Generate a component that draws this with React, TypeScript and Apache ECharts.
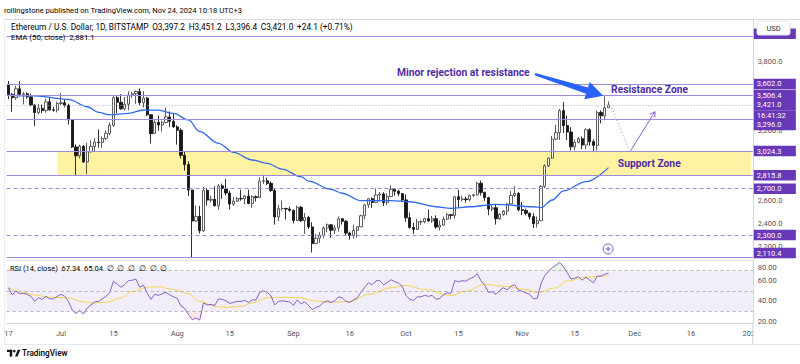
import React, { useEffect, useRef } from 'react';
import * as echarts from 'echarts';

// ---------- data ----------
// [date, open, high, low, close]
const candles: [string, number, number, number, number][] = [
  ['2024-06-17', 3598, 3628, 3472, 3512],
  ['2024-06-18', 3512, 3525, 3362, 3484],
  ['2024-06-19', 3484, 3588, 3466, 3561],
  ['2024-06-20', 3561, 3625, 3495, 3513],
  ['2024-06-21', 3513, 3532, 3426, 3517],
  ['2024-06-22', 3517, 3530, 3475, 3491],
  ['2024-06-23', 3491, 3519, 3410, 3420],
  ['2024-06-24', 3420, 3430, 3240, 3356],
  ['2024-06-25', 3356, 3430, 3340, 3393],
  ['2024-06-26', 3393, 3425, 3350, 3373],
  ['2024-06-27', 3373, 3475, 3355, 3448],
  ['2024-06-28', 3448, 3490, 3372, 3379],
  ['2024-06-29', 3379, 3405, 3364, 3377],
  ['2024-06-30', 3377, 3450, 3357, 3434],
  ['2024-07-01', 3434, 3525, 3422, 3440],
  ['2024-07-02', 3440, 3468, 3401, 3419],
  ['2024-07-03', 3419, 3432, 3252, 3293],
  ['2024-07-04', 3293, 3300, 3050, 3059],
  ['2024-07-05', 3059, 3081, 2810, 2983],
  ['2024-07-06', 2983, 3080, 2960, 3066],
  ['2024-07-07', 3066, 3075, 2922, 2930],
  ['2024-07-08', 2930, 3096, 2823, 3018],
  ['2024-07-09', 3018, 3118, 3010, 3064],
  ['2024-07-10', 3064, 3138, 3025, 3101],
  ['2024-07-11', 3101, 3210, 3053, 3098],
  ['2024-07-12', 3098, 3150, 3052, 3133],
  ['2024-07-13', 3133, 3200, 3117, 3177],
  ['2024-07-14', 3177, 3270, 3160, 3246],
  ['2024-07-15', 3246, 3497, 3232, 3484],
  ['2024-07-16', 3484, 3500, 3350, 3444],
  ['2024-07-17', 3444, 3515, 3380, 3388],
  ['2024-07-18', 3388, 3490, 3375, 3428],
  ['2024-07-19', 3428, 3540, 3375, 3507],
  ['2024-07-20', 3507, 3535, 3481, 3518],
  ['2024-07-21', 3518, 3545, 3430, 3537],
  ['2024-07-22', 3537, 3563, 3420, 3440],
  ['2024-07-23', 3440, 3540, 3400, 3481],
  ['2024-07-24', 3481, 3490, 3325, 3337],
  ['2024-07-25', 3337, 3342, 3090, 3174],
  ['2024-07-26', 3174, 3290, 3172, 3272],
  ['2024-07-27', 3272, 3330, 3200, 3249],
  ['2024-07-28', 3249, 3285, 3192, 3270],
  ['2024-07-29', 3270, 3398, 3265, 3318],
  ['2024-07-30', 3318, 3366, 3230, 3280],
  ['2024-07-31', 3280, 3350, 3225, 3232],
  ['2024-08-01', 3232, 3247, 3080, 3203],
  ['2024-08-02', 3203, 3220, 2960, 2987],
  ['2024-08-03', 2987, 3015, 2855, 2907],
  ['2024-08-04', 2907, 2935, 2635, 2688],
  ['2024-08-05', 2688, 2690, 2110.4, 2421],
  ['2024-08-06', 2421, 2555, 2410, 2461],
  ['2024-08-07', 2461, 2552, 2312, 2336],
  ['2024-08-08', 2336, 2714, 2325, 2685],
  ['2024-08-09', 2685, 2703, 2555, 2601],
  ['2024-08-10', 2601, 2640, 2581, 2608],
  ['2024-08-11', 2608, 2720, 2545, 2553],
  ['2024-08-12', 2553, 2740, 2520, 2724],
  ['2024-08-13', 2724, 2743, 2610, 2702],
  ['2024-08-14', 2702, 2783, 2640, 2662],
  ['2024-08-15', 2662, 2681, 2520, 2567],
  ['2024-08-16', 2567, 2630, 2550, 2592],
  ['2024-08-17', 2592, 2630, 2585, 2614],
  ['2024-08-18', 2614, 2690, 2596, 2612],
  ['2024-08-19', 2612, 2645, 2565, 2636],
  ['2024-08-20', 2636, 2690, 2565, 2572],
  ['2024-08-21', 2572, 2645, 2535, 2631],
  ['2024-08-22', 2631, 2641, 2590, 2623],
  ['2024-08-23', 2623, 2797, 2620, 2763],
  ['2024-08-24', 2763, 2820, 2740, 2768],
  ['2024-08-25', 2768, 2795, 2730, 2746],
  ['2024-08-26', 2746, 2763, 2670, 2683],
  ['2024-08-27', 2683, 2697, 2390, 2456],
  ['2024-08-28', 2456, 2560, 2420, 2528],
  ['2024-08-29', 2528, 2597, 2510, 2529],
  ['2024-08-30', 2529, 2535, 2435, 2524],
  ['2024-08-31', 2524, 2545, 2500, 2513],
  ['2024-09-01', 2513, 2520, 2400, 2426],
  ['2024-09-02', 2426, 2555, 2421, 2539],
  ['2024-09-03', 2539, 2550, 2412, 2424],
  ['2024-09-04', 2424, 2490, 2310, 2451],
  ['2024-09-05', 2451, 2465, 2352, 2370],
  ['2024-09-06', 2370, 2410, 2150, 2226],
  ['2024-09-07', 2226, 2310, 2225, 2273],
  ['2024-09-08', 2273, 2325, 2230, 2298],
  ['2024-09-09', 2298, 2375, 2272, 2360],
  ['2024-09-10', 2360, 2400, 2323, 2388],
  ['2024-09-11', 2388, 2390, 2275, 2341],
  ['2024-09-12', 2341, 2385, 2310, 2361],
  ['2024-09-13', 2361, 2460, 2330, 2440],
  ['2024-09-14', 2440, 2443, 2390, 2418],
  ['2024-09-15', 2418, 2430, 2300, 2317],
  ['2024-09-16', 2317, 2330, 2260, 2295],
  ['2024-09-17', 2295, 2390, 2270, 2340],
  ['2024-09-18', 2340, 2375, 2275, 2371],
  ['2024-09-19', 2371, 2475, 2370, 2466],
  ['2024-09-20', 2466, 2568, 2435, 2560],
  ['2024-09-21', 2560, 2620, 2535, 2613],
  ['2024-09-22', 2613, 2625, 2535, 2581],
  ['2024-09-23', 2581, 2700, 2580, 2645],
  ['2024-09-24', 2645, 2670, 2590, 2654],
  ['2024-09-25', 2654, 2670, 2550, 2579],
  ['2024-09-26', 2579, 2660, 2558, 2633],
  ['2024-09-27', 2633, 2728, 2626, 2695],
  ['2024-09-28', 2695, 2705, 2640, 2678],
  ['2024-09-29', 2678, 2690, 2634, 2657],
  ['2024-09-30', 2657, 2661, 2586, 2603],
  ['2024-10-01', 2603, 2650, 2415, 2449],
  ['2024-10-02', 2449, 2495, 2355, 2365],
  ['2024-10-03', 2365, 2405, 2310, 2349],
  ['2024-10-04', 2349, 2440, 2343, 2414],
  ['2024-10-05', 2414, 2428, 2386, 2414],
  ['2024-10-06', 2414, 2450, 2402, 2441],
  ['2024-10-07', 2441, 2520, 2415, 2422],
  ['2024-10-08', 2422, 2465, 2405, 2441],
  ['2024-10-09', 2441, 2470, 2355, 2369],
  ['2024-10-10', 2369, 2425, 2340, 2385],
  ['2024-10-11', 2385, 2460, 2380, 2437],
  ['2024-10-12', 2437, 2490, 2430, 2476],
  ['2024-10-13', 2476, 2480, 2435, 2469],
  ['2024-10-14', 2469, 2635, 2440, 2630],
  ['2024-10-15', 2630, 2690, 2540, 2606],
  ['2024-10-16', 2606, 2640, 2590, 2611],
  ['2024-10-17', 2611, 2630, 2580, 2605],
  ['2024-10-18', 2605, 2650, 2590, 2640],
  ['2024-10-19', 2640, 2655, 2630, 2647],
  ['2024-10-20', 2647, 2760, 2640, 2746],
  ['2024-10-21', 2746, 2770, 2640, 2667],
  ['2024-10-22', 2667, 2674, 2595, 2622],
  ['2024-10-23', 2622, 2630, 2470, 2524],
  ['2024-10-24', 2524, 2560, 2505, 2535],
  ['2024-10-25', 2535, 2560, 2390, 2441],
  ['2024-10-26', 2441, 2490, 2430, 2477],
  ['2024-10-27', 2477, 2515, 2465, 2506],
  ['2024-10-28', 2506, 2575, 2470, 2568],
  ['2024-10-29', 2568, 2680, 2560, 2640],
  ['2024-10-30', 2640, 2722, 2628, 2659],
  ['2024-10-31', 2659, 2670, 2505, 2518],
  ['2024-11-01', 2518, 2586, 2472, 2512],
  ['2024-11-02', 2512, 2528, 2470, 2487],
  ['2024-11-03', 2487, 2495, 2435, 2458],
  ['2024-11-04', 2458, 2488, 2360, 2398],
  ['2024-11-05', 2398, 2460, 2365, 2423],
  ['2024-11-06', 2423, 2730, 2420, 2720],
  ['2024-11-07', 2720, 2910, 2705, 2897],
  ['2024-11-08', 2897, 2970, 2885, 2963],
  ['2024-11-09', 2963, 3155, 2956, 3127],
  ['2024-11-10', 3127, 3250, 3118, 3183],
  ['2024-11-11', 3183, 3387, 3120, 3372],
  ['2024-11-12', 3372, 3446, 3180, 3244],
  ['2024-11-13', 3244, 3330, 3120, 3188],
  ['2024-11-14', 3188, 3230, 3030, 3060],
  ['2024-11-15', 3060, 3122, 3030, 3100],
  ['2024-11-16', 3100, 3145, 3090, 3131],
  ['2024-11-17', 3131, 3150, 3040, 3076],
  ['2024-11-18', 3076, 3220, 3040, 3208],
  ['2024-11-19', 3208, 3220, 3072, 3105],
  ['2024-11-20', 3105, 3125, 3015, 3073],
  ['2024-11-21', 3073, 3374, 3030, 3357],
  ['2024-11-22', 3357, 3375, 3262, 3328],
  ['2024-11-23', 3328, 3498, 3290, 3397],
  ['2024-11-24', 3397.2, 3451.2, 3396.4, 3421.0],
];

// EMA(50, close)
const emaPoints: [string, number][] = [
  ['2024-06-17', 3505], ['2024-06-24', 3500], ['2024-07-03', 3470], ['2024-07-08', 3406],
  ['2024-07-11', 3358], ['2024-07-14', 3335], ['2024-07-19', 3349], ['2024-07-23', 3378],
  ['2024-07-27', 3376], ['2024-07-31', 3349], ['2024-08-04', 3292], ['2024-08-07', 3191],
  ['2024-08-12', 3091], ['2024-08-16', 3013], ['2024-08-21', 2947], ['2024-08-25', 2918],
  ['2024-08-29', 2869], ['2024-09-03', 2803], ['2024-09-05', 2765], ['2024-09-11', 2694],
  ['2024-09-14', 2660], ['2024-09-19', 2596], ['2024-09-27', 2596], ['2024-10-02', 2587],
  ['2024-10-09', 2544], ['2024-10-13', 2530], ['2024-10-18', 2544], ['2024-10-25', 2565],
  ['2024-11-04', 2544], ['2024-11-06', 2536], ['2024-11-09', 2602], ['2024-11-12', 2680],
  ['2024-11-18', 2760], ['2024-11-24', 2881.1],
];

// RSI(14), one value per candle
const rsiValues: number[] = [
  53, 46, 49.5, 47, 47.5, 46.5, 44.5, 39.5, 43, 41.5, 44.5, 42, 42, 44.5,
  46.5, 44.5, 39.5, 31, 27.5, 30.5, 27, 33, 36, 39, 39.5, 42, 44.5, 48, 59.5, 56.5, 53.5,
  56, 60, 60.5, 61.5, 53.5, 55.5, 47.5, 41.5, 46.5, 45.5, 47, 48.5, 46, 44,
  42.5, 35, 32.5, 26.5, 21.5, 23, 21, 38, 36, 36.5, 35.5, 42, 41.5, 40, 37.5, 38.5,
  39.5, 39.5, 40.5, 38.5, 41, 41, 48.5, 50, 48.5, 45, 36, 39.5, 40, 39.5, 39,
  35.5, 41, 37, 39, 35.5, 31.5, 33.5, 35, 38.5, 40, 38.5, 40, 44, 43, 39.5,
  38.5, 41, 43, 48.5, 53.5, 58, 56, 60, 60, 56, 58, 61, 59, 57.5, 54.5,
  45.5, 41.5, 40.5, 44, 44, 45.5, 44.5, 45.5, 41.5, 42.5, 46, 48, 47.5, 60, 59, 60,
  59.5, 62, 63.5, 67, 60, 55.5, 48.5, 49, 46.5, 50.5, 53, 51, 54.5, 56, 50.5,
  49.5, 48, 46.5, 42, 42.5, 57, 65, 69, 73, 75.5, 78, 74, 68, 61.5, 62.5, 64,
  60.5, 63.5, 60.5, 58, 64.5, 64.5, 66.5, 67.34,
];

// RSI-based MA
const rsiMaPoints: [string, number][] = [
  ['2024-06-17', 53.5], ['2024-06-20', 49], ['2024-06-24', 45.8], ['2024-06-28', 43.6],
  ['2024-07-03', 43], ['2024-07-07', 39], ['2024-07-10', 38], ['2024-07-13', 38.6],
  ['2024-07-17', 43], ['2024-07-20', 49], ['2024-07-24', 53.6], ['2024-07-27', 54],
  ['2024-07-31', 51.3], ['2024-08-04', 47], ['2024-08-07', 39.6], ['2024-08-11', 34.6],
  ['2024-08-14', 33.6], ['2024-08-18', 34.6], ['2024-08-21', 38], ['2024-08-25', 43],
  ['2024-08-30', 43.6], ['2024-09-03', 43], ['2024-09-06', 40.3], ['2024-09-11', 38.5],
  ['2024-09-16', 39.6], ['2024-09-21', 46.3], ['2024-09-27', 53], ['2024-10-01', 55.3],
  ['2024-10-06', 51.3], ['2024-10-13', 45.3], ['2024-10-17', 49.6], ['2024-10-22', 56.3],
  ['2024-10-27', 54.6], ['2024-11-02', 51.3], ['2024-11-05', 48], ['2024-11-10', 53],
  ['2024-11-13', 59.6], ['2024-11-18', 63.6], ['2024-11-24', 65.04],
];

const levels = [4010, 3602, 3506.4, 3421, 3296, 3024.3, 2815.8, 2700, 2300, 2110.4];
const hiddenLevel = 4010; // its price box sits under the USD badge
const dashedLevels = [2700, 2300];
const lastPrice = 3421;
const countdown = '16:41:32';
const supportZone = [2815.8, 3024.3];
const supportZoneFrom = '2024-06-30';
const priceTicks = [2200, 2400, 2600, 3200, 3800];
const rsiTicks = [20, 40, 60, 80];
const rsiGuides = [70, 50, 30];
const tickDates = ['2024-06-17', '2024-07-01', '2024-07-15', '2024-08-01', '2024-08-15', '2024-09-01', '2024-09-16',
  '2024-10-01', '2024-10-15', '2024-11-01', '2024-11-15', '2024-12-01', '2024-12-16', '2025-01-01'];
const tickLabels = ['17', 'Jul', '15', 'Aug', '15', 'Sep', '16', 'Oct', '15', 'Nov', '15', 'Dec', '16', '2025'];
const axisFirstDay = '2024-06-17';
const axisLastDay = '2025-01-01';

// ---------- layout / style ----------
const FONT = 'Roboto, "Noto Sans", sans-serif';
const GRID_LEFT = 6.6;
const GRID_RIGHT = 47.15;
const MAIN_TOP = 20;
const MAIN_H = 240;
const RSI_TOP = 260.5;
const RSI_H = 62.6;
const PRICE_MIN = 2084.8;
const PRICE_MAX = 4153.7;
const RSI_MIN = 18;
const RSI_MAX = 80;
const LEVEL_BOX = '#6739B8';
const LEVEL_LINE = '#9D8BDB';
const TEXT_PURPLE = '#4F2DA6';
const AXIS_TXT = '#50535e';
const NB = '\u00a0';

// annotation anchors: [day index from first candle, price]
const anchors = {
  rejectText: [103.6, 3705],
  arrowTail: [140.4, 3688],
  arrowTip: [158.6, 3500],
  resistanceText: [160.7, 3554],
  supportText: [162.5, 2920],
  dottedFrom: [160.9, 3395],
  dottedTo: [165.5, 3033],
  upFrom: [165.9, 3027],
  upTo: [172.4, 3363],
  plusMark: [159.9, 2180],
};

function makeDays(a: string, b: string): string[] {
  const out: string[] = [];
  const d = new Date(a + 'T00:00:00Z');
  const end = new Date(b + 'T00:00:00Z');
  while (d.getTime() <= end.getTime()) {
    out.push(d.toISOString().slice(0, 10));
    d.setUTCDate(d.getUTCDate() + 1);
  }
  return out;
}

const fmt1 = (v: number) => v.toLocaleString('en-US', { minimumFractionDigits: 1, maximumFractionDigits: 1 });

function levelLabel(v: number): string {
  const s = fmt1(v);
  if (v === hiddenLevel) return `{lv| }\n{g6| }`;
  if (v === lastPrice) return `{g10| }\n{lv|${s}}\n{lv|${countdown}}`;
  if (v === 3296) return `{g11| }\n{lv|${s}}`;
  if (v === 2110.4) return `{lv|${s}}\n{g8| }`;
  return `{lv|${s}}`;
}

function buildOption(days: string[]): any {
  const tickSet = new Set(tickDates);
  const labelMap: Record<string, string> = {};
  tickDates.forEach((d, i) => (labelMap[d] = tickLabels[i]));
  const gap = (h: number) => ({ lineHeight: h, fontSize: 1, height: h });
  const lastDay = days[days.length - 1];
  const lo = rsiGuides[2], hi = rsiGuides[0];

  return {
    animation: false,
    backgroundColor: '#ffffff',
    textStyle: { fontFamily: FONT },
    grid: [
      { left: GRID_LEFT, right: GRID_RIGHT, top: MAIN_TOP, height: MAIN_H },
      { left: GRID_LEFT, right: GRID_RIGHT, top: RSI_TOP, height: RSI_H },
    ],
    xAxis: [
      {
        type: 'category', gridIndex: 0, data: days, boundaryGap: true,
        axisLabel: { show: false }, axisTick: { show: false },
        axisLine: { show: true, lineStyle: { color: '#e0e3eb', width: 1 } },
        splitLine: { show: false },
      },
      {
        type: 'category', gridIndex: 1, data: days, boundaryGap: true,
        axisTick: { show: false },
        axisLine: { show: true, lineStyle: { color: '#d1d4dc', width: 1 } },
        axisLabel: {
          interval: (_i: number, v: string) => tickSet.has(v),
          formatter: (v: string) => labelMap[v] || '',
          color: AXIS_TXT, fontSize: 7.5, margin: 6, fontFamily: FONT,
        },
        splitLine: { show: false },
      },
    ],
    yAxis: [
      {
        type: 'value', gridIndex: 0, position: 'right', min: PRICE_MIN, max: PRICE_MAX,
        axisLine: { show: true, lineStyle: { color: '#d1d4dc' } },
        axisTick: { show: false }, splitLine: { show: false },
        axisLabel: { customValues: priceTicks, formatter: (v: number) => fmt1(v), color: AXIS_TXT, fontSize: 7.5, margin: 5, fontFamily: FONT },
      },
      {
        type: 'value', gridIndex: 0, position: 'right', min: PRICE_MIN, max: PRICE_MAX, z: 10,
        axisLine: { show: false }, axisTick: { show: false }, splitLine: { show: false },
        axisLabel: {
          customValues: levels, formatter: levelLabel, margin: 1,
          rich: {
            lv: { backgroundColor: LEVEL_BOX, color: '#ffffff', fontSize: 7.5, lineHeight: 10.5, height: 10.5, width: 36, padding: [0, 3], fontFamily: FONT, align: 'left' },
            g6: gap(6), g8: gap(8), g10: gap(10.5), g11: gap(11),
          },
        },
      },
      {
        type: 'value', gridIndex: 1, position: 'right', min: RSI_MIN, max: RSI_MAX,
        axisLine: { show: true, lineStyle: { color: '#d1d4dc' } },
        axisTick: { show: false }, splitLine: { show: false },
        axisLabel: {
          customValues: rsiTicks, margin: 5,
          formatter: (v: number) => (v === RSI_MAX ? `{g14| }\n{t|${v.toFixed(2)}}` : `{t|${v.toFixed(2)}}`),
          rich: { t: { color: AXIS_TXT, fontSize: 7.5, fontFamily: FONT }, g14: gap(14) },
        },
      },
    ],
    series: [
      {
        type: 'candlestick', name: 'ETHUSD', xAxisIndex: 0, yAxisIndex: 0,
        data: candles.map((c) => [c[1], c[4], c[3], c[2]]),
        barWidth: 2.7,
        itemStyle: { color: '#ffffff', color0: '#1d1616', borderColor: '#4b4b4b', borderColor0: '#1d1616', borderWidth: 0.9 },
        silent: true,
        markArea: {
          silent: true,
          itemStyle: { color: '#FFF3A3', opacity: 1 },
          data: [[{ xAxis: supportZoneFrom, yAxis: supportZone[1] }, { xAxis: lastDay, yAxis: supportZone[0] }]],
        },
        markLine: {
          silent: true, symbol: ['none', 'none'], label: { show: false },
          data: levels.map((v) => ({
            yAxis: v,
            lineStyle: {
              color: v === lastPrice ? '#B7A6E3' : LEVEL_LINE,
              width: 1,
              type: v === lastPrice ? [1, 2] : dashedLevels.includes(v) ? [4, 3] : 'solid',
            },
          })),
        },
      },
      {
        type: 'line', name: 'EMA', xAxisIndex: 0, yAxisIndex: 0, data: emaPoints,
        smooth: 0.35, smoothMonotone: 'x', showSymbol: false, silent: true,
        lineStyle: { color: '#2F69EE', width: 1.3 }, z: 4,
      },
      // oversold shading (between RSI and 30)
      {
        type: 'line', name: 'os-base', xAxisIndex: 1, yAxisIndex: 2, stack: 'os', silent: true,
        data: rsiValues.map((v) => Math.min(v, lo)), showSymbol: false, lineStyle: { opacity: 0, width: 0 }, z: 1,
      },
      {
        type: 'line', name: 'os-fill', xAxisIndex: 1, yAxisIndex: 2, stack: 'os', silent: true,
        data: rsiValues.map((v) => lo - Math.min(v, lo)), showSymbol: false, lineStyle: { opacity: 0, width: 0 },
        areaStyle: { color: 'rgba(242,54,69,0.18)' }, z: 1,
      },
      // overbought shading (between 70 and RSI)
      {
        type: 'line', name: 'ob-base', xAxisIndex: 1, yAxisIndex: 2, stack: 'ob', silent: true,
        data: rsiValues.map(() => hi), showSymbol: false, lineStyle: { opacity: 0, width: 0 }, z: 1,
      },
      {
        type: 'line', name: 'ob-fill', xAxisIndex: 1, yAxisIndex: 2, stack: 'ob', silent: true,
        data: rsiValues.map((v) => Math.max(v, hi) - hi), showSymbol: false, lineStyle: { opacity: 0, width: 0 },
        areaStyle: { color: 'rgba(76,175,80,0.22)' }, z: 1,
      },
      {
        type: 'line', name: 'RSI', xAxisIndex: 1, yAxisIndex: 2, data: rsiValues,
        showSymbol: false, silent: true, lineStyle: { color: '#8462C8', width: 1 }, z: 4,
        markArea: {
          silent: true, itemStyle: { color: 'rgba(126,87,194,0.10)' },
          data: [[{ yAxis: hi }, { yAxis: lo }]],
        },
        markLine: {
          silent: true, symbol: ['none', 'none'], label: { show: false },
          lineStyle: { color: '#a3a6af', width: 0.8, type: [3, 3] },
          data: rsiGuides.map((v) => ({ yAxis: v })),
        },
      },
      {
        type: 'line', name: 'RSI MA', xAxisIndex: 1, yAxisIndex: 2, data: rsiMaPoints,
        smooth: 0.4, smoothMonotone: 'x', showSymbol: false, silent: true,
        lineStyle: { color: '#F1D54E', width: 1 }, z: 3,
      },
    ],
  };
}

function buildGraphics(chart: echarts.ECharts): any[] {
  const x0 = chart.convertToPixel({ xAxisIndex: 0 }, 0) as unknown as number;
  const x1 = chart.convertToPixel({ xAxisIndex: 0 }, 1) as unknown as number;
  const dayW = x1 - x0;
  const P = (a: number[]) => [x0 + a[0] * dayW, chart.convertToPixel({ yAxisIndex: 0 }, a[1]) as unknown as number];

  const g: any[] = [];
  const txt = (x: number, y: number, text: string, rich: any, z = 60) => ({
    type: 'text', x, y, z,
    style: { text, rich, verticalAlign: 'middle', textVerticalAlign: 'middle', fontFamily: FONT, fontSize: 7.5 },
  });

  // publisher line + frame
  g.push(txt(4, 10, '{a|rollingstone published on TradingView.com, Nov 24, 2024 10:18 UTC+3}', { a: { color: '#2a2e39', fontSize: 7.6, fontFamily: FONT } }));
  g.push({ type: 'line', z: 1, shape: { x1: 4, y1: 19.5, x2: 800, y2: 19.5 }, style: { stroke: '#d9dbe3', lineWidth: 1 } });
  g.push({ type: 'line', z: 1, shape: { x1: 4.5, y1: 19.5, x2: 4.5, y2: 344.5 }, style: { stroke: '#eceef2', lineWidth: 1 } });
  g.push({ type: 'line', z: 1, shape: { x1: 4, y1: 344.5, x2: 800, y2: 344.5 }, style: { stroke: '#e6e8ee', lineWidth: 1 } });

  // legends
  const grey = { color: '#6a6d78', fontSize: 8.3, fontFamily: FONT };
  const dark = { color: '#3a3d47', fontSize: 8.3, fontFamily: FONT };
  const sp = NB + NB;
  g.push(txt(11, 26.5,
    `{g|Ethereum / U.S. Dollar, 1D, BITSTAMP}${sp}{g|O}{d|3,397.2}${sp}{g|H}{d|3,451.2}${sp}{g|L}{d|3,396.4}${sp}{g|C}{d|3,421.0}${sp}{d|+24.1 (+0.71%)}`,
    { g: grey, d: dark }));
  g.push(txt(11, 37, `{g|EMA (50, close)}${sp}{b|2,881.1}`, { g: { ...grey, fontSize: 7.8 }, b: { color: '#2F69EE', fontSize: 7.8, fontFamily: FONT } }));
  g.push(txt(10, 268, `{g|RSI (14, close)}${sp}{p|67.34}${sp}{y|65.04}${sp}{g|∅${sp}∅${sp}∅${sp}∅${sp}∅${sp}∅}`, {
    g: { ...grey, fontSize: 7.5 }, p: { color: '#8462C8', fontSize: 7.5, fontFamily: FONT }, y: { color: '#E9C935', fontSize: 7.5, fontFamily: FONT },
  }));

  // USD badge over the top of the price scale
  g.push({ type: 'rect', z: 100, shape: { x: 757, y: 21, width: 33, height: 14, r: 2 }, style: { fill: '#ffffff', stroke: '#e0e3eb', lineWidth: 1 } });
  g.push({ type: 'text', z: 101, x: 773.5, y: 28, style: { text: 'USD', fill: '#2a2e39', fontSize: 7.5, fontFamily: FONT, align: 'center', textAlign: 'center', verticalAlign: 'middle', textVerticalAlign: 'middle' } });
  // price-scale column under the time axis (clips "2025")
  const axisX = x0 - dayW / 2 + dayW * makeDays(axisFirstDay, axisLastDay).length;
  g.push({ type: 'rect', z: 100, shape: { x: axisX + 0.5, y: 324, width: 800 - axisX, height: 20 }, style: { fill: '#ffffff' } });
  g.push({ type: 'line', z: 101, shape: { x1: axisX, y1: 323, x2: axisX, y2: 344.5 }, style: { stroke: '#d1d4dc', lineWidth: 1 } });

  // TradingView logo
  g.push({ type: 'rect', z: 60, shape: { x: 7, y: 349.8, width: 5.2, height: 2.2 }, style: { fill: '#131722' } });
  g.push({ type: 'rect', z: 60, shape: { x: 9.7, y: 349.8, width: 2.5, height: 6.8 }, style: { fill: '#131722' } });
  g.push({ type: 'circle', z: 60, shape: { cx: 14.3, cy: 351.1, r: 1.3 }, style: { fill: '#131722' } });
  g.push({ type: 'polygon', z: 60, shape: { points: [[15.0, 356.6], [17.8, 349.8], [20.4, 349.8], [17.6, 356.6]] }, style: { fill: '#131722' } });
  g.push(txt(22, 353.3, '{a|TradingView}', { a: { color: '#131722', fontSize: 8.2, fontWeight: 500, fontFamily: FONT } }));

  // annotations
  const bold = (x: number, y: number, text: string) => ({
    type: 'text', x, y, z: 70,
    style: { text, fill: TEXT_PURPLE, fontSize: 10.3, fontWeight: 'bold', fontFamily: FONT, verticalAlign: 'middle', textVerticalAlign: 'middle' },
  });
  const rt = P(anchors.rejectText);
  g.push(bold(rt[0], rt[1], 'Minor rejection at resistance'));
  const rz = P(anchors.resistanceText);
  g.push(bold(rz[0], rz[1], 'Resistance Zone'));
  const sz = P(anchors.supportText);
  g.push(bold(sz[0], sz[1], 'Support Zone'));

  // big blue arrow
  const T = P(anchors.arrowTail);
  const H = P(anchors.arrowTip);
  const dx = H[0] - T[0], dy = H[1] - T[1];
  const L = Math.hypot(dx, dy);
  const u = [dx / L, dy / L];
  const n = [-u[1], u[0]];
  const J = [H[0] - 17 * u[0], H[1] - 17 * u[1]];
  const pt = (b: number[], k: number) => [b[0] + k * n[0], b[1] + k * n[1]];
  g.push({
    type: 'polygon', z: 70,
    shape: { points: [pt(T, -1.2), pt(J, -3.2), pt(J, -9), H, pt(J, 9), pt(J, 3.2), pt(T, 1.2)] },
    style: { fill: '#2962FF' },
  });

  // dotted projection and purple up-arrow
  const d0 = P(anchors.dottedFrom), d1 = P(anchors.dottedTo);
  g.push({ type: 'line', z: 70, shape: { x1: d0[0], y1: d0[1], x2: d1[0], y2: d1[1] }, style: { stroke: '#a0a3ab', lineWidth: 1, lineDash: [1.2, 2] } });
  const a0 = P(anchors.upFrom), a1 = P(anchors.upTo);
  g.push({ type: 'line', z: 70, shape: { x1: a0[0], y1: a0[1], x2: a1[0], y2: a1[1] }, style: { stroke: '#8462C8', lineWidth: 1 } });
  const ux = a1[0] - a0[0], uy = a1[1] - a0[1];
  const ul = Math.hypot(ux, uy);
  const uu = [ux / ul, uy / ul], un = [-uu[1], uu[0]];
  const back = [a1[0] - 5 * uu[0], a1[1] - 5 * uu[1]];
  g.push({
    type: 'polyline', z: 70,
    shape: { points: [[back[0] + 3 * un[0], back[1] + 3 * un[1]], a1, [back[0] - 3 * un[0], back[1] - 3 * un[1]]] },
    style: { stroke: '#8462C8', lineWidth: 1, fill: 'none' },
  });

  // plus marker
  const pm = P(anchors.plusMark);
  g.push({ type: 'circle', z: 70, shape: { cx: pm[0], cy: pm[1], r: 5 }, style: { fill: '#ffffff', stroke: '#7E57C2', lineWidth: 1 } });
  g.push({ type: 'line', z: 71, shape: { x1: pm[0] - 2.5, y1: pm[1], x2: pm[0] + 2.5, y2: pm[1] }, style: { stroke: '#7E57C2', lineWidth: 1 } });
  g.push({ type: 'line', z: 71, shape: { x1: pm[0], y1: pm[1] - 2.5, x2: pm[0], y2: pm[1] + 2.5 }, style: { stroke: '#7E57C2', lineWidth: 1 } });

  return g;
}

export default function App() {
  const ref = useRef<HTMLDivElement>(null);
  useEffect(() => {
    const el = ref.current;
    if (!el) return;
    const chart = echarts.init(el, undefined, { renderer: 'svg' });
    const days = makeDays(axisFirstDay, axisLastDay);
    chart.setOption(buildOption(days));
    chart.setOption({ graphic: buildGraphics(chart) });
    return () => chart.dispose();
  }, []);
  return <div ref={ref} style={{ position: 'absolute', left: 0, top: 0, width: 800, height: 364, background: '#ffffff' }} />;
}
